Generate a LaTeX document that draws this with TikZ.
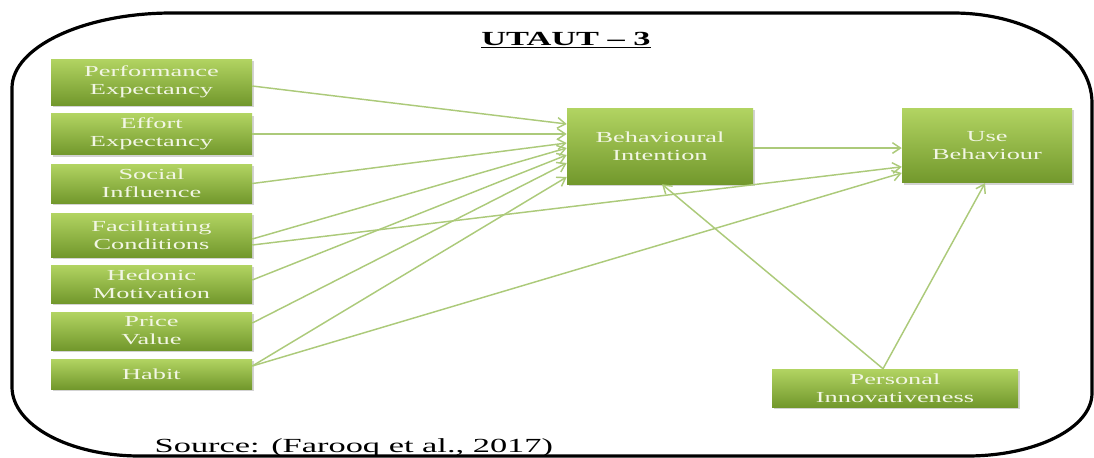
\documentclass[tikz,border=0pt]{standalone}
\usepackage{fontspec}
\setmainfont{Liberation Serif}[FakeStretch=1.72]
\usetikzlibrary{arrows.meta,shadows}
\definecolor{boxtop}{RGB}{178,212,98}
\definecolor{boxbot}{RGB}{114,152,44}
\definecolor{boxtext}{RGB}{242,246,228}
\definecolor{linkgreen}{RGB}{172,202,122}

\begin{document}
\begin{tikzpicture}[
    x=0.75pt, y=-0.75pt,
    box/.style={rectangle, top color=boxtop, bottom color=boxbot, text=boxtext,
        minimum width=150.75pt, minimum height=30pt, inner sep=1pt, align=center,
        font=\fontsize{11.5}{13.5}\selectfont,
        drop shadow={shadow xshift=1.5pt, shadow yshift=-1.5pt, opacity=0.35}},
    arrow/.style={-{Straight Barb[length=6pt, width=8pt]}, draw=linkgreen, line width=1.1pt}
]
    \useasboundingbox (0,0) rectangle (1094,457);

    % outer frame
    \draw[line width=2.4pt] (172,13) -- (953,13) .. controls (1030,13) and (1092,53) .. (1092,103)
        -- (1092,393) .. controls (1092,428) and (1036,456) .. (967,456)
        -- (140,456) .. controls (69,456) and (12,425) .. (12,387)
        -- (12,88) .. controls (12,47) and (84,13) .. (172,13) -- cycle;

    \node[font=\fontsize{15}{18}\selectfont\bfseries] (title) at (566,40) {\underline{UTAUT -- 3}};
    \node[anchor=base west, font=\fontsize{15}{18}\selectfont] (source) at (150,452) {Source: (Farooq et al., 2017)};

    % constructs
    \node[box, minimum height=34.5pt] (pe) at (151.5,82) {Performance\\Expectancy};
    \node[box, minimum height=30.75pt] (ee) at (151.5,134) {Effort\\Expectancy};
    \node[box, minimum height=29.25pt] (si) at (151.5,183.5) {Social\\Influence};
    \node[box, minimum height=33pt] (fc) at (151.5,235) {Facilitating\\Conditions};
    \node[box, minimum height=28.5pt] (hm) at (151.5,284) {Hedonic\\Motivation};
    \node[box, minimum height=28.5pt] (pv) at (151.5,331) {Price\\Value};
    \node[box, minimum height=22.5pt] (habit) at (151.5,374) {Habit};

    \node[box, minimum width=139.5pt, minimum height=57pt] (bi) at (660,146) {Behavioural\\Intention};
    \node[box, minimum width=127.5pt, minimum height=56pt] (ub) at (987,145.5) {Use\\Behaviour};
    \node[box, minimum width=184.5pt, minimum height=28.5pt] (pi) at (895,388) {Personal\\Innovativeness};

    \draw[arrow] ([yshift=-3pt]pe.east) -- ([yshift=16.5pt]bi.west);
    \draw[arrow] (ee.east) -- (ee.east -| bi.west);
    \draw[arrow] (si.east) -- ([yshift=2.25pt]bi.west);
    \draw[arrow] ([yshift=-3pt]fc.east) -- ([yshift=-1.5pt]bi.west);
    \draw[arrow] ([yshift=-7.5pt]fc.east) -- ([yshift=-16pt]ub.west);
    \draw[arrow] ([yshift=3pt]hm.east) -- ([yshift=-6.75pt]bi.west);
    \draw[arrow] ([yshift=6pt]pv.east) -- ([yshift=-12.75pt]bi.west);
    \draw[arrow] ([yshift=6pt]habit.east) -- ([yshift=-23.25pt]bi.west);
    \draw[arrow] ([yshift=6pt]habit.east) -- ([yshift=-20.6pt]ub.west);
    \draw[arrow] ([yshift=-1.5pt]bi.east) -- ([yshift=-1.5pt]bi.east -| ub.west);
    \draw[arrow] ([xshift=-9pt]pi.north) -- ([xshift=1.5pt]bi.south);
    \draw[arrow] ([xshift=-9pt]pi.north) -- ([xshift=-1.5pt]ub.south);
\end{tikzpicture}
\end{document}
